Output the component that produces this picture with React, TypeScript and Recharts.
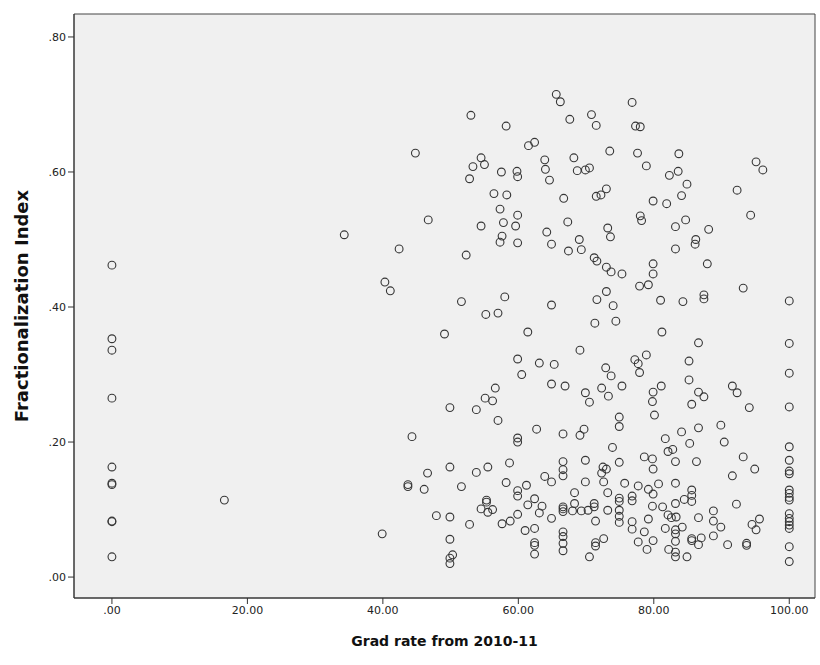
import { ScatterChart, Scatter, XAxis, YAxis, ReferenceArea, Label } from 'recharts';

// Schools with a 0% and a 100% grad rate line up in two columns
const fracAtZeroRate = [0.462, 0.353, 0.336, 0.265, 0.163, 0.139, 0.137, 0.083, 0.082, 0.03];
const fracAtFullRate = [
  0.409, 0.346, 0.302, 0.252, 0.193, 0.173, 0.157, 0.153, 0.129, 0.124, 0.118, 0.114, 0.094,
  0.087, 0.082, 0.077, 0.072, 0.045, 0.023,
];

// [grad rate, fractionalization] for everything in between
const upperBand: [number, number][] = [
  [65.6, 0.715], [66.2, 0.704], [67.6, 0.678], [53.0, 0.684], [58.2, 0.668], [62.4, 0.644],
  [61.5, 0.639], [44.8, 0.628], [54.5, 0.621], [55.0, 0.611], [53.3, 0.608], [52.8, 0.59],
  [57.5, 0.6], [59.8, 0.601], [59.9, 0.593], [63.9, 0.618], [64.0, 0.604], [64.6, 0.588],
  [68.2, 0.621], [56.4, 0.568], [58.3, 0.566], [57.3, 0.545], [59.9, 0.536], [66.7, 0.561],
  [46.7, 0.529], [57.8, 0.525], [67.3, 0.526], [70.8, 0.685], [71.5, 0.669], [76.8, 0.703],
  [77.3, 0.668], [78.0, 0.667], [73.5, 0.631], [77.6, 0.628], [83.7, 0.627], [68.7, 0.602],
  [69.9, 0.603], [70.5, 0.606], [78.9, 0.609], [82.3, 0.595], [83.6, 0.601], [84.9, 0.582],
  [95.1, 0.615], [96.1, 0.603], [92.3, 0.573], [73.0, 0.575], [71.5, 0.564], [72.2, 0.566],
  [84.1, 0.565], [79.9, 0.557], [81.9, 0.553], [94.3, 0.536], [78.0, 0.535], [78.2, 0.528],
  [84.7, 0.529], [34.3, 0.507], [42.4, 0.486], [54.5, 0.52], [59.6, 0.52], [57.6, 0.505],
  [57.3, 0.496], [59.9, 0.495], [52.3, 0.477], [64.2, 0.511], [64.9, 0.493], [67.4, 0.483],
  [69.0, 0.5], [69.3, 0.485], [73.2, 0.517], [73.6, 0.504], [83.2, 0.519], [88.1, 0.515],
  [86.2, 0.5], [86.1, 0.493], [83.2, 0.486], [71.2, 0.473], [71.6, 0.468], [73.0, 0.459],
  [73.7, 0.452], [75.3, 0.449], [79.9, 0.464], [79.9, 0.449], [87.9, 0.464],
];

const middleBand: [number, number][] = [
  [40.3, 0.437], [41.1, 0.424], [51.6, 0.408], [58.0, 0.415], [55.2, 0.389], [57.0, 0.391],
  [64.9, 0.403], [49.1, 0.36], [61.4, 0.363], [59.9, 0.323], [63.1, 0.317], [65.3, 0.315],
  [60.5, 0.3], [64.9, 0.286], [66.9, 0.283], [56.6, 0.28], [55.1, 0.265], [56.2, 0.261],
  [49.9, 0.251], [53.8, 0.248], [79.2, 0.433], [77.9, 0.431], [93.2, 0.428], [73.0, 0.423],
  [71.6, 0.411], [74.0, 0.402], [81.0, 0.41], [84.3, 0.408], [87.4, 0.418], [87.4, 0.412],
  [71.3, 0.376], [74.4, 0.379], [81.2, 0.363], [86.6, 0.347], [69.1, 0.336], [77.2, 0.322],
  [77.7, 0.316], [78.9, 0.329], [77.9, 0.303], [85.2, 0.32], [72.9, 0.31], [73.7, 0.298],
  [85.2, 0.292], [75.3, 0.283], [72.3, 0.28], [73.3, 0.268], [69.9, 0.273], [70.5, 0.259],
  [81.1, 0.283], [79.9, 0.274], [79.8, 0.26], [86.6, 0.274], [87.4, 0.267], [85.6, 0.256],
  [91.6, 0.283], [92.3, 0.273], [94.1, 0.251],
];

const lowerBand: [number, number][] = [
  [57.0, 0.232], [62.7, 0.219], [66.6, 0.212], [59.9, 0.206], [59.9, 0.2], [44.3, 0.208],
  [58.7, 0.169], [55.5, 0.163], [49.9, 0.163], [53.8, 0.155], [46.6, 0.154], [66.6, 0.171],
  [66.6, 0.159], [66.6, 0.15], [63.9, 0.149], [64.9, 0.141], [58.2, 0.14], [61.2, 0.136],
  [59.9, 0.128], [59.9, 0.12], [43.7, 0.137], [43.7, 0.134], [46.1, 0.13], [51.6, 0.134],
  [55.3, 0.114], [55.3, 0.111], [54.5, 0.101], [55.5, 0.096], [56.2, 0.1], [62.4, 0.116],
  [61.4, 0.107], [63.5, 0.105], [63.1, 0.095], [64.9, 0.087], [59.9, 0.093], [58.8, 0.083],
  [57.6, 0.079], [66.6, 0.104], [66.6, 0.101], [66.6, 0.097], [66.6, 0.067], [66.6, 0.06],
  [66.6, 0.05], [66.6, 0.039], [62.4, 0.072], [61.0, 0.069], [62.4, 0.051], [62.4, 0.047],
  [62.4, 0.034], [47.9, 0.091], [49.9, 0.089], [52.8, 0.078], [49.9, 0.056], [50.3, 0.033],
  [49.9, 0.028], [49.9, 0.02], [39.9, 0.064], [16.6, 0.114],
  [74.9, 0.237], [74.9, 0.223], [80.1, 0.24], [69.7, 0.219], [69.1, 0.21], [73.9, 0.192],
  [69.9, 0.173], [74.9, 0.17], [81.7, 0.205], [84.1, 0.215], [86.6, 0.221], [85.3, 0.198],
  [89.9, 0.225], [90.4, 0.2], [82.1, 0.186], [82.8, 0.189], [78.6, 0.178], [79.8, 0.175],
  [79.9, 0.16], [83.2, 0.171], [86.3, 0.171], [93.2, 0.178], [94.9, 0.16], [91.6, 0.15],
  [72.5, 0.163], [73.0, 0.16], [72.3, 0.154], [69.9, 0.141], [72.6, 0.141], [75.7, 0.139],
  [77.7, 0.135], [79.2, 0.13], [79.9, 0.123], [80.7, 0.138], [83.2, 0.139], [73.2, 0.125],
  [68.3, 0.125], [74.9, 0.117], [74.9, 0.112], [76.8, 0.12], [76.8, 0.113], [85.6, 0.129],
  [85.6, 0.121], [85.6, 0.112], [84.5, 0.115], [83.2, 0.109], [79.8, 0.105], [81.3, 0.104],
  [71.2, 0.109], [71.2, 0.104], [68.3, 0.109], [68.0, 0.098], [69.3, 0.098], [70.3, 0.099],
  [73.2, 0.099], [74.9, 0.099], [74.9, 0.09], [74.9, 0.081], [82.1, 0.092], [82.6, 0.088],
  [83.3, 0.089], [79.2, 0.086], [76.8, 0.082], [76.8, 0.071], [81.7, 0.072], [83.2, 0.07],
  [83.2, 0.064], [83.2, 0.053], [84.2, 0.074], [86.6, 0.088], [88.8, 0.098], [88.8, 0.083],
  [89.9, 0.074], [88.8, 0.061], [92.2, 0.108], [94.5, 0.078], [95.6, 0.086], [95.1, 0.07],
  [90.9, 0.048], [93.7, 0.05], [93.7, 0.047], [85.6, 0.057], [85.6, 0.054], [87.0, 0.058],
  [86.6, 0.048], [78.6, 0.067], [77.7, 0.052], [79.9, 0.054], [79.0, 0.041], [82.2, 0.041],
  [83.2, 0.037], [83.2, 0.03], [84.9, 0.03], [72.6, 0.057], [71.4, 0.051], [71.4, 0.046],
  [70.5, 0.03], [71.4, 0.083],
];

const xTicks = [0, 20, 40, 60, 80, 100];
const yTicks = [0, 0.2, 0.4, 0.6, 0.8];
const X_DOMAIN: [number, number] = [-5.6, 103.8];
const Y_DOMAIN: [number, number] = [-0.031, 0.834];

const points = [
  ...fracAtZeroRate.map((frac) => ({ grad: 0, frac })),
  ...fracAtFullRate.map((frac) => ({ grad: 100, frac })),
  ...[...upperBand, ...middleBand, ...lowerBand].map(([grad, frac]) => ({ grad, frac })),
];

// SPSS style: drop the leading zero, two decimals
const fmt = (v: number) => v.toFixed(2).replace(/^0\./, '.');

const tickStyle = { fill: '#222', fontSize: 11, fontFamily: 'DejaVu Sans' };

function Ring(props: any) {
  const { cx, cy } = props;
  if (cx == null || cy == null) return null;
  return <circle cx={cx} cy={cy} r={3.9} fill="none" stroke="#363636" strokeWidth={1.1} />;
}

function YTitle(props: any) {
  const { viewBox } = props;
  const x = viewBox.x + 21;
  const y = viewBox.y + viewBox.height / 2;
  return (
    <text
      x={x}
      y={y}
      transform={`rotate(-90 ${x} ${y})`}
      textAnchor="middle"
      dominantBaseline="central"
      fontFamily="DejaVu Sans"
      fontWeight="bold"
      fontSize={18}
      fill="#111"
    >
      Fractionalization Index
    </text>
  );
}

export default function App() {
  return (
    <div style={{ position: 'absolute', left: 0, top: 0, width: 820, height: 665, background: '#fff' }}>
      <ScatterChart width={820} height={665} margin={{ top: 14, right: 5, bottom: 7, left: 0 }}>
        <ReferenceArea
          x1={X_DOMAIN[0]}
          x2={X_DOMAIN[1]}
          y1={Y_DOMAIN[0]}
          y2={Y_DOMAIN[1]}
          fill="#f0f0f0"
          fillOpacity={1}
          stroke="#444"
          strokeWidth={1}
        />
        <XAxis
          type="number"
          dataKey="grad"
          domain={X_DOMAIN}
          ticks={xTicks}
          tickFormatter={fmt}
          allowDataOverflow
          height={60}
          tick={tickStyle}
          tickSize={6}
          tickLine={{ stroke: '#333' }}
          axisLine={{ stroke: '#333' }}
        >
          <Label
            value="Grad rate from 2010-11"
            position="insideBottom"
            offset={12}
            style={{ fontFamily: 'DejaVu Sans', fontWeight: 'bold', fontSize: 14, fill: '#111' }}
          />
        </XAxis>
        <YAxis
          type="number"
          dataKey="frac"
          domain={Y_DOMAIN}
          ticks={yTicks}
          tickFormatter={fmt}
          allowDataOverflow
          width={74}
          tick={tickStyle}
          tickSize={6}
          tickLine={{ stroke: '#333' }}
          axisLine={{ stroke: '#333' }}
          label={<YTitle />}
        />
        <Scatter data={points} dataKey="frac" shape={(p: any) => <Ring {...p} />} isAnimationActive={false} />
      </ScatterChart>
    </div>
  );
}
